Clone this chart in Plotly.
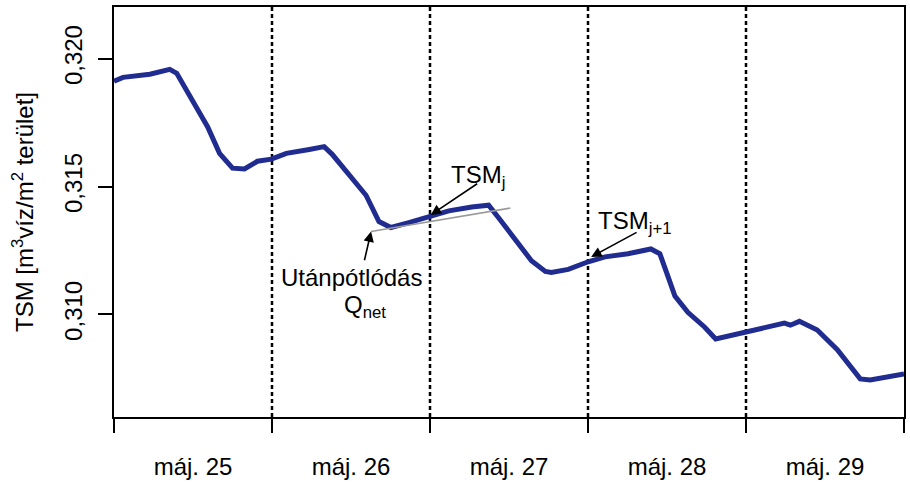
import plotly.graph_objects as go

# Data: time in days since máj. 25 00:00, TSM values
t_days = [0.000, 0.057, 0.227, 0.353, 0.397, 0.542, 0.593, 0.668, 0.750, 0.826,
          0.908, 0.996, 1.091, 1.236, 1.330, 1.381, 1.507, 1.595, 1.677, 1.753,
          1.866, 1.992, 2.119, 2.264, 2.371, 2.434, 2.560, 2.642, 2.730, 2.768,
          2.875, 3.001, 3.108, 3.253, 3.398, 3.455, 3.506, 3.550, 3.632, 3.739,
          3.808, 3.865, 3.997, 4.155, 4.243, 4.281, 4.338, 4.451, 4.578, 4.723,
          4.786, 5.000]
tsm = [0.31912, 0.31927, 0.31939, 0.31958, 0.31943, 0.31782, 0.31733, 0.31630, 0.31572, 0.31569,
       0.31599, 0.31607, 0.31630, 0.31645, 0.31656, 0.31626, 0.31531, 0.31466, 0.31363, 0.31340,
       0.31359, 0.31382, 0.31405, 0.31420, 0.31427, 0.31378, 0.31275, 0.31210, 0.31168, 0.31164,
       0.31176, 0.31206, 0.31225, 0.31237, 0.31256, 0.31237, 0.31149, 0.31072, 0.31008, 0.30950,
       0.30904, 0.30912, 0.30927, 0.30950, 0.30966, 0.30958, 0.30973, 0.30939, 0.30862, 0.30748,
       0.30744, 0.30767]

tangent_x = [1.627, 2.509]
tangent_y = [0.31324, 0.31416]

day_bounds = [0, 1, 2, 3, 4, 5]
day_centers = [0.5, 1.5, 2.5, 3.5, 4.5]
day_labels = ["máj. 25", "máj. 26", "máj. 27", "máj. 28", "máj. 29"]
y_ticks = [0.310, 0.315, 0.320]

FONT = "Liberation Sans, Arial, sans-serif"
LINE_COLOR = "#202C8F"

fig = go.Figure()

# dotted day separators
for d in day_bounds[1:-1]:
    fig.add_trace(go.Scatter(x=[d, d], y=[0.30599, 0.32202], mode="lines",
                             line=dict(color="black", width=2.5, dash="4px,3px"),
                             hoverinfo="skip", showlegend=False))

fig.add_trace(go.Scatter(x=t_days, y=tsm, mode="lines",
                         line=dict(color=LINE_COLOR, width=5),
                         showlegend=False))

fig.add_trace(go.Scatter(x=tangent_x, y=tangent_y, mode="lines",
                         line=dict(color="#9a9a9a", width=1.6),
                         showlegend=False))

annots = []
def arrow(hx, hy, tx, ty):
    annots.append(dict(x=hx, y=hy, ax=tx, ay=ty, xref="x", yref="y", axref="x", ayref="y",
                       text="", showarrow=True, arrowhead=2, arrowsize=1.3,
                       arrowwidth=1.6, arrowcolor="black"))

arrow(2.005, 0.31389, 2.308, 0.31515)
arrow(3.020, 0.31225, 3.317, 0.31324)
arrow(1.627, 0.31324, 1.583, 0.31206)

def label(x, y, txt, xanchor="left"):
    annots.append(dict(x=x, y=y, xref="x", yref="y", text=txt, showarrow=False,
                       xanchor=xanchor, yanchor="middle",
                       font=dict(family=FONT, size=24, color="black")))

label(2.119, 0.31540, "TSM<sub>j</sub>")
label(3.052, 0.31360, "TSM<sub>j+1</sub>")
label(1.501, 0.31145, "Utánpótlódás", xanchor="center")
label(1.444, 0.31030, "Q<sub>net</sub>")

fig.update_layout(
    width=910, height=484,
    margin=dict(l=114, r=4, t=7, b=57),
    paper_bgcolor="white", plot_bgcolor="white",
    separators=",.",
    font=dict(family=FONT, size=24, color="black"),
    annotations=annots,
    xaxis=dict(range=[0, 5], showgrid=False, zeroline=False,
               showline=True, linecolor="black", linewidth=2, mirror=True,
               tickmode="array", tickvals=day_centers, ticktext=day_labels,
               ticks="", ticklabelstandoff=27,
               tickfont=dict(family=FONT, size=24, color="black"),
               minor=dict(tickmode="array", tickvals=day_bounds, ticks="outside",
                          ticklen=14, tickwidth=2, tickcolor="black", showgrid=False)),
    yaxis=dict(range=[0.30599, 0.32202], showgrid=False, zeroline=False,
               showline=True, linecolor="black", linewidth=2, mirror=True,
               tickmode="array", tickvals=y_ticks, tickformat=".3f",
               ticks="outside", ticklen=14, tickwidth=2, tickcolor="black",
               tickangle=-90, ticklabelstandoff=6,
               tickfont=dict(family=FONT, size=24, color="black"),
               title=dict(text="TSM [m<sup>3</sup>víz/m<sup>2</sup> terület]",
                          font=dict(family=FONT, size=24, color="black"),
                          standoff=20)),
)

fig.write_html("out.html", config={"displayModeBar": False},
               post_script="document.body.style.margin='0px';")
